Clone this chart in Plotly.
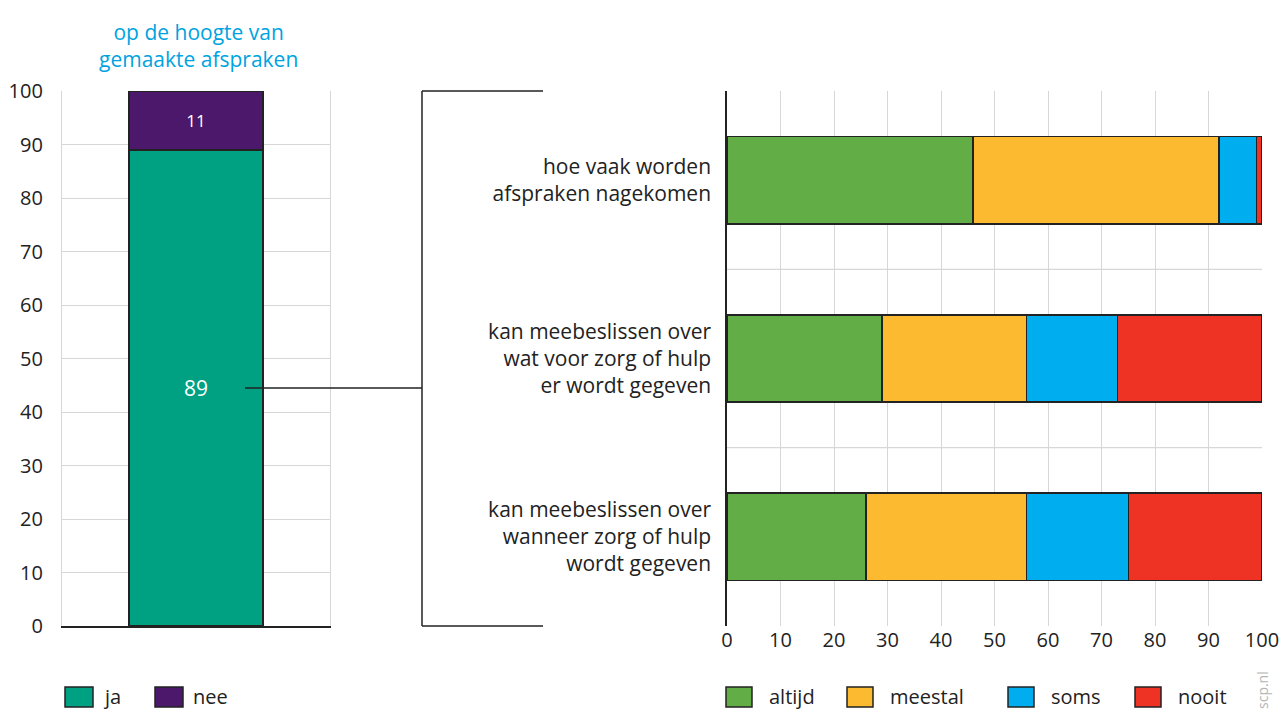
import plotly.graph_objects as go

W, H = 1281, 717
FONT = "Open Sans"
DARK = "#222222"
GRID = "#d7d7d7"

# ---- data ----
left_categories = ["ja", "nee"]
left_values = [89, 11]
left_colors = ["#00a183", "#4b186b"]
left_title = "op de hoogte van<br>gemaakte afspraken"

right_questions = [
    "hoe vaak worden<br>afspraken nagekomen",
    "kan meebeslissen over<br>wat voor zorg of hulp<br>er wordt gegeven",
    "kan meebeslissen over<br>wanneer zorg of hulp<br>wordt gegeven",
]
right_series = ["altijd", "meestal", "soms", "nooit"]
right_values = {
    "altijd": [46, 29, 26],
    "meestal": [46, 27, 30],
    "soms": [7, 17, 19],
    "nooit": [1, 27, 25],
}
right_colors = ["#62ad46", "#fcba30", "#00aeef", "#ee3325"]

left_ticks = list(range(0, 101, 10))
right_ticks = list(range(0, 101, 10))


def px(x):
    return x / W


def py(y):
    return 1 - y / H


fig = go.Figure()

# left stacked bar
left_text_sizes = [21, 17]
for cat, val, col, ts in zip(left_categories, left_values, left_colors, left_text_sizes):
    fig.add_trace(go.Bar(
        x=[0], y=[val], name=cat, marker=dict(color=col, line=dict(color=DARK, width=1.5)),
        width=1, text=[str(val)], textposition="inside", insidetextanchor="middle",
        textfont=dict(color="white", size=ts, family=FONT), xaxis="x", yaxis="y",
        showlegend=False, hoverinfo="skip",
    ))

# right stacked horizontal bars
for s, col in zip(right_series, right_colors):
    fig.add_trace(go.Bar(
        y=right_questions, x=right_values[s], name=s, orientation="h",
        marker=dict(color=col, line=dict(color=DARK, width=1.5)), width=0.49,
        xaxis="x2", yaxis="y2", showlegend=False, hoverinfo="skip",
    ))

fig.update_layout(
    width=W, height=H, margin=dict(l=0, r=0, t=0, b=0, autoexpand=False),
    paper_bgcolor="white", plot_bgcolor="white", barmode="stack",
    font=dict(family=FONT, color=DARK, size=20),
    xaxis=dict(domain=[px(62), px(330)], range=[-1, 1], showticklabels=False, showgrid=False,
               zeroline=False, showline=True, linecolor=DARK, linewidth=1.5, fixedrange=True,
               automargin=False),
    yaxis=dict(domain=[py(626), py(91)], range=[0, 100], tickvals=left_ticks, showgrid=True,
               gridcolor=GRID, gridwidth=1.2, zeroline=False, showline=True, linecolor=GRID,
               linewidth=1.2, mirror=True, ticks="", ticklabelstandoff=14,
               tickfont=dict(size=20, color=DARK), automargin=False),
    xaxis2=dict(domain=[px(727), px(1262)], range=[0, 100], tickvals=right_ticks, showgrid=True,
                gridcolor=GRID, gridwidth=1.2, zeroline=False, showline=False, ticks="",
                tickfont=dict(size=20, color=DARK), anchor="y2", ticklabelstandoff=0,
                automargin=False),
    yaxis2=dict(domain=[py(626), py(91)], range=[2.5, -0.5], type="category",
                categoryorder="array", categoryarray=right_questions, showgrid=False,
                zeroline=False, showline=True, linecolor=DARK, linewidth=1.5, ticks="",
                ticklabelstandoff=10, tickfont=dict(size=21, color=DARK), anchor="x2",
                automargin=False),
)

shapes = []
# category separators in right chart
for b in [0.5, 1.5]:
    shapes.append(dict(type="line", xref="x2 domain", yref="y2", x0=0, x1=1, y0=b, y1=b,
                       line=dict(color=GRID, width=1.2), layer="below"))
# bracket
bx = px(422)
shapes += [
    dict(type="line", xref="paper", yref="paper", x0=bx, x1=bx, y0=py(91), y1=py(626),
         line=dict(color=DARK, width=1.5)),
    dict(type="line", xref="paper", yref="paper", x0=bx, x1=px(543), y0=py(91), y1=py(91),
         line=dict(color=DARK, width=1.5)),
    dict(type="line", xref="paper", yref="paper", x0=bx, x1=px(543), y0=py(626), y1=py(626),
         line=dict(color=DARK, width=1.5)),
    dict(type="line", xref="paper", yref="y", x0=px(245), x1=bx, y0=left_values[0] / 2,
         y1=left_values[0] / 2, line=dict(color=DARK, width=1.5)),
]

annotations = [
    dict(text=left_title, x=px(198), y=py(45), xref="paper", yref="paper", showarrow=False,
         xanchor="center", yanchor="middle",
         font=dict(color="#00a3e0", size=21, family=FONT), align="center"),
    dict(text="scp.nl", x=px(1262), y=py(690), xref="paper", yref="paper", showarrow=False,
         xanchor="center", yanchor="middle",
         textangle=-90, font=dict(color="#b5b5b5", size=14, family=FONT)),
]

# legends (left)
left_leg_x = [65, 155]
for cat, col, x0 in zip(left_categories, left_colors, left_leg_x):
    shapes.append(dict(type="rect", xref="paper", yref="paper", x0=px(x0), x1=px(x0 + 28),
                       y0=py(707), y1=py(687), fillcolor=col, line=dict(color=DARK, width=1.5)))
    annotations.append(dict(text=cat, x=px(x0 + 36), y=py(696), xref="paper", yref="paper",
                            xanchor="left", yanchor="middle", showarrow=False,
                            font=dict(size=20, color=DARK)))

right_leg_x = [726, 847, 1008, 1135]
for s, col, x0 in zip(right_series, right_colors, right_leg_x):
    shapes.append(dict(type="rect", xref="paper", yref="paper", x0=px(x0), x1=px(x0 + 26),
                       y0=py(707), y1=py(687), fillcolor=col, line=dict(color=DARK, width=1.5)))
    annotations.append(dict(text=s, x=px(x0 + 41), y=py(696), xref="paper", yref="paper",
                            xanchor="left", yanchor="middle", showarrow=False,
                            font=dict(size=20, color=DARK)))

fig.update_layout(shapes=shapes, annotations=annotations)
fig.write_html(
    "out.html",
    config={"displayModeBar": False},
    post_script="document.body.style.margin='0';document.body.style.overflow='hidden';",
)
